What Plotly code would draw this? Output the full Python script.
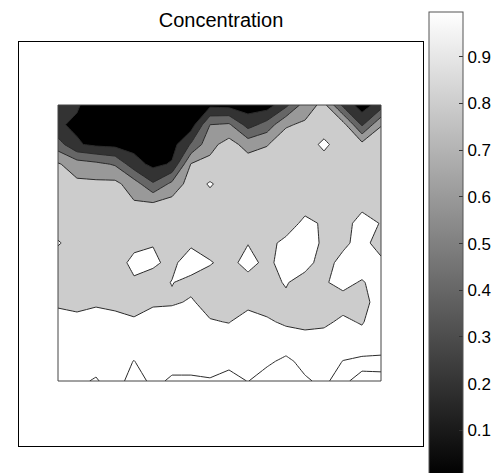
import plotly.graph_objects as go

# ---------------- data ----------------
x_cols = list(range(18))
y_rows = list(range(15))          # row 0 = top of the data block

concentration = [
    [0.16, 0.12, 0.00, 0.00, 0.00, 0.00, 0.00, 0.00, 0.05, 0.03, 0.00, 0.00, 0.25, 0.60, 0.76, 0.25, 0.00, 0.20],
    [0.12, 0.07, 0.02, 0.00, 0.00, 0.00, 0.00, 0.00, 0.50, 0.53, 0.22, 0.38, 0.68, 0.73, 0.80, 0.78, 0.27, 0.69],
    [0.39, 0.12, 0.06, 0.04, 0.03, 0.00, 0.02, 0.32, 0.64, 0.78, 0.62, 0.69, 0.80, 0.81, 0.94, 0.80, 0.76, 0.80],
    [0.72, 0.60, 0.55, 0.48, 0.18, 0.05, 0.12, 0.71, 0.75, 0.80, 0.80, 0.79, 0.81, 0.82, 0.82, 0.80, 0.81, 0.80],
    [0.80, 0.74, 0.74, 0.75, 0.60, 0.32, 0.55, 0.80, 0.92, 0.81, 0.80, 0.80, 0.82, 0.83, 0.82, 0.81, 0.82, 0.81],
    [0.81, 0.80, 0.80, 0.80, 0.72, 0.72, 0.78, 0.81, 0.82, 0.80, 0.81, 0.82, 0.81, 0.80, 0.82, 0.82, 0.87, 0.82],
    [0.84, 0.82, 0.81, 0.81, 0.82, 0.83, 0.82, 0.83, 0.82, 0.81, 0.82, 0.83, 0.78, 0.96, 0.87, 0.86, 0.94, 0.895],
    [0.91, 0.85, 0.82, 0.82, 0.84, 0.895, 0.85, 0.877, 0.84, 0.83, 0.895, 0.832, 0.96, 0.98, 0.872, 0.865, 0.96, 0.82],
    [0.84, 0.82, 0.82, 0.80, 0.96, 0.92, 0.87, 0.97, 0.91, 0.856, 0.95, 0.86, 0.97, 0.95, 0.84, 0.95, 0.96, 0.94],
    [0.84, 0.83, 0.84, 0.83, 0.87, 0.85, 0.905, 0.86, 0.84, 0.84, 0.844, 0.862, 0.91, 0.844, 0.89, 0.93, 0.89, 0.95],
    [0.87, 0.86, 0.88, 0.86, 0.85, 0.88, 0.88, 0.915, 0.85, 0.84, 0.86, 0.85, 0.874, 0.86, 0.87, 0.86, 0.85, 0.97],
    [0.97, 0.94, 0.96, 0.95, 0.917, 0.96, 0.99, 0.97, 0.91, 0.895, 0.96, 0.917, 0.88, 0.87, 0.88, 0.92, 0.89, 0.98],
    [1.00, 1.00, 0.99, 0.99, 1.00, 0.99, 1.00, 1.00, 0.98, 0.97, 1.00, 1.00, 0.97, 0.943, 0.945, 0.98, 0.95, 0.99],
    [1.02, 1.03, 1.02, 1.02, 1.105, 1.00, 1.03, 1.03, 0.995, 1.053, 1.05, 1.06, 1.15, 1.03, 1.00, 1.105, 1.15, 1.15],
    [1.04, 1.06, 1.12, 1.00, 1.20, 1.05, 1.13, 1.13, 1.12, 1.16, 1.095, 1.20, 1.25, 1.13, 1.05, 1.22, 1.45, 1.43],
]

level_start, level_end, level_step = 0.1, 1.3, 0.2
band_colors = ["#000000", "#333333", "#666666", "#999999", "#cccccc", "#ffffff", "#ffffff", "#ffffff"]

cbar_ticks = [0.1, 0.2, 0.3, 0.4, 0.5, 0.6, 0.7, 0.8, 0.9]
cbar_labels = ["0.1", "0.2", "0.3", "0.4", "0.5", "0.6", "0.7", "0.8", "0.9"]
cbar_min, cbar_max = 0.0, 0.996

title_text = "Concentration"

# ---------------- layout geometry (pixels) ----------------
W, H = 502, 473
PL, PR, PT, PB = 19, 423, 42, 446          # outer axes box
DL, DR, DT, DB = 58, 381, 105, 381         # data block inside the box
CB_L, CB_R, CB_T, CB_B = 429, 463, 12, 476.5

px_x = (DR - DL) / (max(x_cols) - min(x_cols))
px_y = (DB - DT) / (max(y_rows) - min(y_rows))
x_range = [min(x_cols) - (DL - PL) / px_x, max(x_cols) + (PR - DR) / px_x]
y_range = [max(y_rows) + (PB - DB) / px_y, min(y_rows) - (DT - PT) / px_y]

n_b = len(band_colors) - 1
fill_scale = [[i / n_b, c] for i, c in enumerate(band_colors)]

font_family = "Liberation Sans, Arial, sans-serif"

fig = go.Figure()

fig.add_trace(go.Contour(
    x=x_cols, y=y_rows, z=concentration,
    colorscale=fill_scale,
    contours=dict(start=level_start, end=level_end, size=level_step,
                  coloring="fill", showlines=True),
    line=dict(color="#2a2a2a", width=1, smoothing=0),
    showscale=False, hoverinfo="skip",
))

# continuous grey colour bar
fig.add_trace(go.Scatter(
    x=[None], y=[None], mode="markers", showlegend=False, hoverinfo="skip",
    marker=dict(
        color=[cbar_min], cmin=cbar_min, cmax=cbar_max,
        colorscale=[[0, "#000000"], [1, "#ffffff"]], showscale=True,
        colorbar=dict(
            x=(CB_L - PL) / (PR - PL), xanchor="left", xpad=0,
            y=(PB - CB_T) / (PB - PT), yanchor="top", ypad=0,
            len=CB_B - CB_T, lenmode="pixels",
            thickness=CB_R - CB_L, thicknessmode="pixels",
            outlinecolor="#555555", outlinewidth=1,
            tickvals=cbar_ticks, ticktext=cbar_labels,
            ticks="inside", ticklen=4, tickcolor="#333333", tickwidth=1,
            tickfont=dict(family=font_family, size=17, color="#000000"),
        ),
    ),
))

# border of the data block
fig.add_shape(type="rect", xref="x", yref="y",
              x0=min(x_cols), x1=max(x_cols), y0=min(y_rows), y1=max(y_rows),
              line=dict(color="#444444", width=1), fillcolor="rgba(0,0,0,0)")

axis_common = dict(showgrid=False, zeroline=False, showticklabels=False, ticks="",
                   showline=True, mirror=True, linecolor="#000000", linewidth=1)

fig.update_layout(
    width=W, height=H,
    margin=dict(l=PL, r=W - PR, t=PT, b=H - PB, pad=0, autoexpand=False),
    paper_bgcolor="white", plot_bgcolor="white",
    xaxis=dict(range=x_range, **axis_common),
    yaxis=dict(range=y_range, **axis_common),
    title=dict(text=title_text, x=0.5, xref="paper", xanchor="center",
               y=1 - 19.5 / H, yref="container", yanchor="middle",
               font=dict(family=font_family, size=20, color="#000000")),
    showlegend=False,
)

fig.write_html("out.html")
